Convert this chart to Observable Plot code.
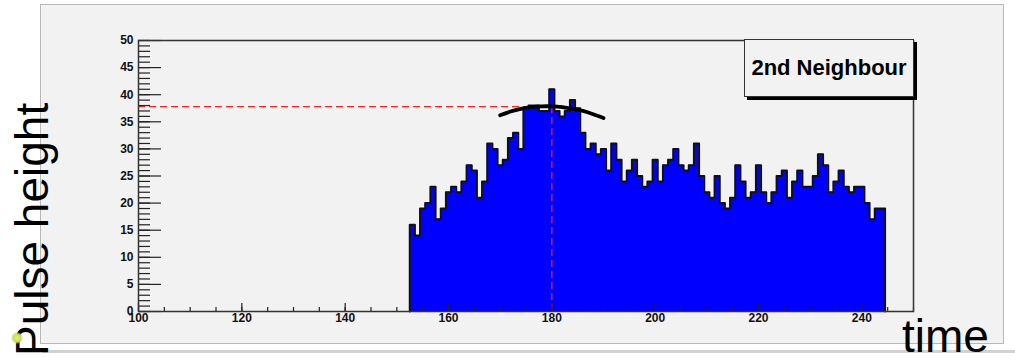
<!DOCTYPE html>
<html>
<head>
<meta charset="utf-8">
<script src="https://cdn.jsdelivr.net/npm/d3@7"></script>
<script src="https://cdn.jsdelivr.net/npm/@observablehq/plot@0.6"></script>
<style>
  html, body { margin: 0; padding: 0; width: 1015px; height: 358px; overflow: hidden; background: #ffffff;
    font-family: "Liberation Sans", Arial, Helvetica, sans-serif; }
  #pad { position: absolute; left: 40px; top: 4px; width: 962px; height: 338px; background: #f2f2f2;
    border: 1px solid #b8b8b8; }
  #floor { position: absolute; left: 42px; top: 350px; width: 973px; height: 3px; background: #d2d2d2; }
  #chart { position: absolute; left: 0; top: 0; }
  #chart svg { overflow: visible; }
  .big { position: absolute; font-size: 46px; line-height: 40px; color: #000; white-space: nowrap; }
  #ytitle { left: 12px; top: 356px; transform: rotate(-90deg); transform-origin: 0 0; }
  #xtitle { left: 902px; top: 316px; }
  #legend { position: absolute; left: 744px; top: 39px; width: 168px; height: 56px; background: #f2f2f2;
    border: 1px solid #333; box-shadow: 3px 3px 0 #000; display: flex; align-items: center; justify-content: center;
    font-weight: bold; font-size: 22px; color: #000; }
  #dot { position: absolute; left: 11px; top: 332px; width: 12px; height: 12px; border-radius: 50%;
    background: radial-gradient(circle, #e4f070 0%, #c9dc55 45%, rgba(220,235,120,0) 75%); }
</style>
</head>
<body>
<div id="pad"></div>
<div id="floor"></div>
<div id="chart"></div>
<div id="legend">2nd Neighbour</div>
<div class="big" id="ytitle">Pulse height</div>
<div class="big" id="xtitle">time</div>
<div id="dot"></div>
<script>
// Histogram: one bin per time unit, first bin centred on 153
const firstBin = 153;
const binWidth = 1;
const pulseHeights = [
  16, 14, 19, 20, 23, 17, 19, 22, 23, 22,
  24, 27, 26, 21, 24, 31, 30, 27, 28, 32,
  33, 30, 37.5, 38, 38, 37, 37, 41, 37, 36,
  37, 39, 37.5, 33, 30, 31, 29, 30, 26, 31,
  28, 24, 26, 28, 25, 23, 24, 28, 24, 27,
  28, 30, 27, 26, 27, 31, 25, 22, 21, 25,
  20, 19, 21, 27, 24, 21, 22, 27, 22, 20,
  22, 25, 26, 21, 24, 26, 23, 23, 25, 29,
  27, 22, 24, 26, 23, 22, 23, 23, 20, 17,
  19, 19
];

// Fitted peak curve around the maximum
const fitTime   = [170, 172, 174, 176, 178, 180, 182, 184, 186, 188, 190];
const fitHeight = [36.2, 36.9, 37.4, 37.7, 37.85, 37.85, 37.7, 37.4, 37.0, 36.4, 35.7];

// Peak position marked by the dashed guide lines
const peakTime = 180;
const peakHeight = 37.8;

// Axis ticks and labels
const xDomain = [100, 250];
const yDomain = [0, 50];
const xLabels = [100, 120, 140, 160, 180, 200, 220, 240];
const xMinor = d3.range(100, 251, 5);
const yLabels = [0, 5, 10, 15, 20, 25, 30, 35, 40, 45, 50];
const yMinor = d3.range(0, 51, 1);

// Step outline of the histogram (also used as the filled shape, so bins have no seams)
const outline = [];
pulseHeights.forEach((h, i) => {
  const c = firstBin + i * binWidth;
  outline.push({x: c - binWidth / 2, y: h}, {x: c + binWidth / 2, y: h});
});
const histEdge = [{x: outline[0].x, y: 0}, ...outline, {x: outline[outline.length - 1].x, y: 0}];

const fit = fitTime.map((t, i) => ({t, h: fitHeight[i]}));

const W = 1015, H = 358;
const mL = 138, mR = 102, mT = 40, mB = 47;
const innerW = W - mL - mR, innerH = H - mT - mB;
const red = "#ff2020";

const chart = Plot.plot({
  width: W,
  height: H,
  marginLeft: mL,
  marginRight: mR,
  marginTop: mT,
  marginBottom: mB,
  style: {background: "transparent", fontFamily: "'Liberation Sans', Arial, sans-serif", color: "#111"},
  x: {domain: xDomain},
  y: {domain: yDomain},
  marks: [
    Plot.areaY(outline, {x: "x", y1: 0, y2: "y", fill: "#0000ff"}),
    Plot.line(histEdge, {x: "x", y: "y", stroke: "#111", strokeWidth: 2}),
    // dashed guides at the fitted peak
    Plot.ruleY([peakHeight], {x1: xDomain[0], x2: peakTime, stroke: red, strokeWidth: 1.3, strokeDasharray: "7,4"}),
    Plot.ruleX([peakTime], {y1: 0, y2: peakHeight, stroke: red, strokeWidth: 1.3, strokeDasharray: "7,4"}),
    Plot.line(fit, {x: "t", y: "h", curve: "natural", stroke: "#000", strokeWidth: 3.8}),
    // inward tick marks
    Plot.ruleY(yMinor, {insetRight: innerW - 12, stroke: "#222", strokeWidth: 1.2}),
    Plot.ruleY(yLabels, {insetRight: innerW - 23, stroke: "#222", strokeWidth: 1.2}),
    Plot.ruleX(xMinor, {insetTop: innerH - 4, stroke: "#222", strokeWidth: 1.2}),
    Plot.ruleX(xLabels, {insetTop: innerH - 8, stroke: "#222", strokeWidth: 1.2}),
    Plot.axisY({ticks: yLabels, tickSize: 0, tickPadding: 5, fontSize: 12, fontWeight: "bold", label: null}),
    Plot.axisX({ticks: xLabels, tickSize: 0, tickPadding: 2, fontSize: 12, fontWeight: "bold", label: null}),
    Plot.frame({stroke: "#333", strokeWidth: 1.5})
  ]
});
document.getElementById("chart").append(chart);
</script>
</body>
</html>
